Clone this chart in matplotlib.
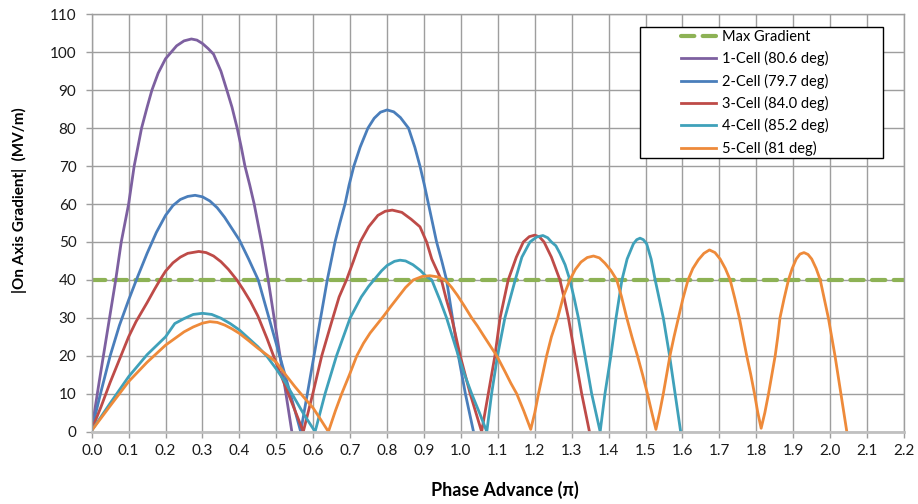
import matplotlib
matplotlib.use("Agg")
import matplotlib.pyplot as plt
from matplotlib.patches import Rectangle

plt.rcParams['font.family'] = ['Lato', 'DejaVu Sans']

# Max gradient limit
max_x = [0.0, 2.2]
max_y = [40, 40]

# 1-Cell
c1_x = [0.0, 0.02, 0.04, 0.065, 0.08, 0.10, 0.115, 0.135, 0.15, 0.163, 0.18, 0.2, 0.215,
        0.23, 0.25, 0.27, 0.285, 0.30, 0.315, 0.33, 0.35, 0.366, 0.38, 0.394, 0.405,
        0.415, 0.428, 0.44, 0.45, 0.46, 0.478, 0.494, 0.51, 0.526, 0.542]
c1_y = [0.5, 13, 25, 40, 50, 60, 70, 80, 85.5, 90, 94.5, 98.3, 100,
        101.7, 103, 103.5, 103.2, 102.3, 101, 99.5, 95, 90, 85.5, 80, 75,
        70, 65, 60, 55, 50, 40, 30, 20, 10, 0]

# 2-Cell
c2_x = [0.0, 0.025, 0.05, 0.075, 0.1, 0.125, 0.15, 0.175, 0.2, 0.22, 0.24, 0.26, 0.28,
        0.30, 0.32, 0.34, 0.36, 0.38, 0.4, 0.425, 0.451, 0.48, 0.509, 0.538, 0.566,
        0.584, 0.602, 0.62, 0.638, 0.659, 0.672, 0.686, 0.697, 0.71, 0.727, 0.748, 0.765,
        0.782, 0.8, 0.818, 0.836, 0.858, 0.875, 0.889, 0.901, 0.912, 0.923, 0.934, 0.948,
        0.961, 0.977, 0.993, 1.012, 1.034]
c2_y = [0.5, 10.5, 20, 28, 34.7, 41, 47, 52.5, 57, 59.6, 61.2, 62, 62.3,
        61.9, 60.8, 59, 56.5, 53.5, 50.5, 45.5, 40, 30, 20, 10, 0,
        10, 20, 30, 40, 50, 55, 60, 65, 70, 75, 80, 82.6,
        84.2, 84.8, 84.3, 82.8, 80, 75, 70, 65, 60, 55, 50, 45,
        40, 30, 20, 10, 0]

# 3-Cell
c3_x = [0.0, 0.025, 0.05, 0.075, 0.1, 0.12, 0.15, 0.17, 0.185, 0.2, 0.22, 0.24, 0.26,
        0.29, 0.31, 0.33, 0.35, 0.37, 0.393, 0.41, 0.43, 0.45, 0.475, 0.5, 0.525, 0.55,
        0.573, 0.6, 0.623, 0.65, 0.67, 0.69, 0.709, 0.727, 0.75, 0.775, 0.795, 0.814,
        0.84, 0.865, 0.889, 0.907, 0.921, 0.935, 0.947, 0.96, 0.975, 0.998, 1.025, 1.056,
        1.074, 1.092, 1.106, 1.128, 1.15, 1.169, 1.185, 1.2, 1.213, 1.225, 1.245, 1.268,
        1.28, 1.291, 1.309, 1.327, 1.348]
c3_y = [0.5, 6.5, 13, 19, 25, 29, 34, 37.5, 40, 42.3, 44.5, 46, 47,
        47.5, 47.2, 46.3, 44.8, 42.8, 40, 37.5, 34.3, 30.5, 24.5, 18, 11.8, 5.7,
        0, 10.5, 20, 29, 35.5, 40, 45, 50, 54, 57, 58.1, 58.4,
        57.8, 56, 54, 50, 45.5, 42.5, 40, 35, 30, 20, 10, 0,
        10, 20, 30, 40, 46, 50, 51.4, 51.8, 51.3, 50, 46, 40,
        35, 30, 20, 10, 0]

# 4-Cell
c4_x = [0.0, 0.05, 0.1, 0.15, 0.2, 0.225, 0.25, 0.275, 0.3, 0.325, 0.35, 0.375, 0.4,
        0.45, 0.475, 0.5, 0.525, 0.55, 0.575, 0.605,
        0.632, 0.663, 0.7, 0.73, 0.75, 0.767, 0.785, 0.8, 0.82, 0.835, 0.85, 0.87, 0.89,
        0.905, 0.921, 0.93, 0.943, 0.961, 0.977, 0.993, 1.01, 1.029, 1.05, 1.07,
        1.083, 1.099, 1.119, 1.147, 1.165, 1.187, 1.205, 1.222, 1.235, 1.245, 1.257,
        1.268, 1.282, 1.295, 1.307, 1.318, 1.336, 1.354, 1.377,
        1.39, 1.406, 1.42, 1.436, 1.45, 1.467, 1.476, 1.485, 1.494, 1.503, 1.515, 1.526,
        1.548, 1.565, 1.58, 1.595]
c4_y = [0.3, 7.5, 14.5, 20.3, 25, 28.5, 29.8, 30.9, 31.2, 30.9, 29.9, 28.5, 26.8,
        22.4, 19.8, 16.5, 12.9, 8.7, 4.5, 0,
        10, 20, 30, 35.5, 38.3, 40.3, 42.4, 43.8, 44.9, 45.2, 45, 44, 42.5,
        41, 40, 37.8, 34.7, 30, 25, 20, 15, 10, 5, 0,
        10, 20, 30, 40, 46, 50, 51.3, 51.7, 51.1, 50, 49,
        47, 44, 40, 35, 30, 20, 10, 0,
        10, 20, 30, 40, 45.5, 49.5, 50.6, 51, 50.6, 49.5, 45.5, 40,
        30, 20, 10, 0]

# 5-Cell
c5_x = [0.0, 0.05, 0.1, 0.15, 0.2, 0.25, 0.275, 0.3, 0.32, 0.34, 0.36, 0.38, 0.4,
        0.425, 0.45, 0.475, 0.5, 0.525, 0.55, 0.575, 0.6, 0.62, 0.641,
        0.66, 0.677, 0.698, 0.718, 0.736, 0.754, 0.772, 0.79, 0.81, 0.83, 0.85, 0.871,
        0.895, 0.916, 0.937, 0.957, 0.975, 0.99, 1.01, 1.029, 1.045, 1.06, 1.08, 1.097,
        1.12, 1.135, 1.151, 1.17, 1.189,
        1.2, 1.21, 1.221, 1.232, 1.245, 1.262, 1.277, 1.295, 1.31, 1.325, 1.342, 1.359,
        1.375, 1.39, 1.406, 1.422, 1.435, 1.449, 1.463, 1.478, 1.492, 1.505, 1.517, 1.528,
        1.538, 1.548, 1.557, 1.566, 1.577, 1.589, 1.601, 1.615, 1.628, 1.643, 1.658, 1.673,
        1.688, 1.702, 1.716, 1.729, 1.742, 1.754, 1.764, 1.774, 1.785, 1.795, 1.804, 1.813,
        1.823, 1.833, 1.842, 1.851, 1.858, 1.864, 1.875, 1.887, 1.897, 1.908, 1.918, 1.929,
        1.94, 1.95, 1.962, 1.973, 1.984, 1.995, 2.004, 2.013, 2.021, 2.029, 2.037, 2.045]
c5_y = [0.3, 6.8, 13.2, 18.3, 22.8, 26.3, 27.6, 28.6, 29, 28.8, 28.1, 27.1, 25.9,
        24, 22, 20.2, 18.3, 15, 11.9, 9, 6.2, 3.2, 0,
        5.5, 10, 15, 20, 23.3, 26, 28.2, 30.4, 33, 35.5, 38, 40,
        40.9, 41.1, 40.8, 40, 38, 36, 33, 30, 27.8, 25.5, 22.5, 20,
        15.7, 12.8, 10, 5.5, 0.6,
        5, 10, 15, 20, 25, 30, 35.5, 40, 42.8, 44.7, 45.9, 46.3,
        45.8, 44.4, 42.5, 40, 35.5, 30, 25, 20, 15, 10, 5, 0.6,
        5, 10, 15, 20, 25, 30, 35, 40, 43, 45.3, 47, 47.9,
        47.2, 45.5, 43, 40, 35, 30, 25, 20, 15, 10, 5, 0.9,
        5, 10, 15, 20, 25, 30, 35, 40, 43, 45.5, 46.8, 47.2,
        46.7, 45.5, 43, 40, 35, 30, 25, 20, 15, 10, 5, 0]

labels = ['Max Gradient', '1-Cell (80.6 deg)', '2-Cell (79.7 deg)',
          '3-Cell (84.0 deg)', '4-Cell (85.2 deg)', '5-Cell (81 deg)']
x_ticks = [i / 10 for i in range(23)]
y_ticks = list(range(0, 111, 10))

fig = plt.figure(figsize=(9.18, 5.04), dpi=100)
ax = fig.add_axes([0.0999, 0.1435, 0.8849, 0.8281])

ax.plot(max_x, max_y, color='#8DB255', lw=3.0, dashes=(3.2, 2.0),
        dash_capstyle='round', label=labels[0])
series = [(c1_x, c1_y, '#7D60A0'), (c2_x, c2_y, '#4A7EBB'), (c3_x, c3_y, '#BE4B48'),
          (c4_x, c4_y, '#3FA1BA'), (c5_x, c5_y, '#EE8A3A')]
for (xs, ys, col), lab in zip(series, labels[1:]):
    ax.plot(xs, ys, color=col, lw=2.0, solid_joinstyle='round', label=lab)

ax.set_xlim(0, 2.2)
ax.set_ylim(0, 110)
ax.set_xticks(x_ticks)
ax.set_xticklabels([f'{t:.1f}' for t in x_ticks])
ax.set_yticks(y_ticks)
ax.grid(True, color='#9e9e9e', lw=1.0)
ax.set_axisbelow(True)
for s in ax.spines.values():
    s.set_color('#9e9e9e')
    s.set_linewidth(1.0)
ax.spines['bottom'].set_color('#c0c0c0')
ax.spines['bottom'].set_linewidth(2.0)
ax.tick_params(axis='both', direction='out', length=4, width=1.0, color='#9e9e9e',
               labelsize=11, labelcolor='#1a1a1a')
ax.tick_params(axis='y', pad=7)
ax.tick_params(axis='x', pad=5)

ax.set_xlabel('Phase Advance (\u03c0)', fontsize=13, fontweight='bold')
ax.set_ylabel('|On Axis Gradient|  (MV/m)', fontsize=11, fontweight='bold')
ax.xaxis.set_label_coords(0.509, -0.117)
ax.yaxis.set_label_coords(-0.08, 0.555)

# legend box drawn separately, entries on top of it
box = Rectangle((640 / 918, 1 - 158 / 504), 243 / 918, 131 / 504,
                transform=fig.transFigure, facecolor='white', edgecolor='black', lw=1.0)
fig.patches.append(box)
handles, labs = ax.get_legend_handles_labels()
fig.legend(handles, labs, loc='upper left', bbox_to_anchor=(678 / 918, 1 - 27 / 504),
           frameon=False, fontsize=10.5, handlelength=2.4, handletextpad=0.45,
           labelspacing=0.5, borderpad=0.2, borderaxespad=0)

fig.savefig('out.png', dpi=100)
